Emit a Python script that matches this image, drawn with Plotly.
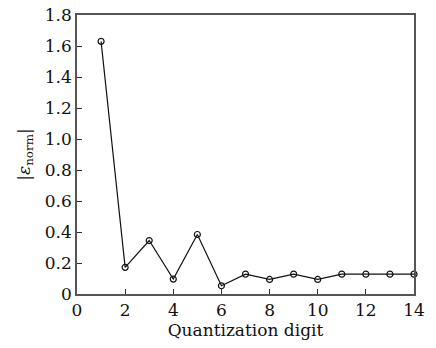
import plotly.graph_objects as go

digits = [1, 2, 3, 4, 5, 6, 7, 8, 9, 10, 11, 12, 13, 14]
eps_norm = [1.63, 0.172, 0.345, 0.096, 0.384, 0.053, 0.128, 0.094, 0.128, 0.094, 0.128, 0.128, 0.128, 0.128]
x_ticks = [0, 2, 4, 6, 8, 10, 12, 14]
y_ticks = [0, 0.2, 0.4, 0.6, 0.8, 1.0, 1.2, 1.4, 1.6, 1.8]
y_tick_text = ["0", "0.2", "0.4", "0.6", "0.8", "1.0", "1.2", "1.4", "1.6", "1.8"]

font_family = "DejaVu Serif, Liberation Serif, serif"
fs = 17

fig = go.Figure()
fig.add_trace(go.Scatter(
    x=digits, y=eps_norm, mode="lines+markers",
    line=dict(color="#111111", width=1.2),
    marker=dict(symbol="circle-open", size=6, color="#111111", line=dict(width=1.2)),
    showlegend=False, cliponaxis=False,
))

fig.update_layout(
    width=436, height=348,
    margin=dict(l=77, r=22, t=15, b=54, autoexpand=False),
    paper_bgcolor="white", plot_bgcolor="white",
    font=dict(family=font_family, size=fs, color="#111111"),
)
fig.update_xaxes(
    range=[0, 14], tickvals=x_ticks, ticks="inside", ticklen=5, tickcolor="#333333",
    showline=True, linecolor="#555555", linewidth=1.5, mirror=True,
    showgrid=False, zeroline=False, automargin=False, ticklabeloverflow="allow",
    tickfont=dict(family=font_family, size=fs),
    title=dict(text="Quantization digit", font=dict(family=font_family, size=fs), standoff=0),
)
fig.update_yaxes(
    range=[0, 1.8], tickvals=y_ticks, ticktext=y_tick_text, ticks="inside", ticklen=5, tickcolor="#333333",
    showline=True, linecolor="#555555", linewidth=1.5, mirror=True,
    showgrid=False, zeroline=False, automargin=False, ticklabeloverflow="allow",
    tickfont=dict(family=font_family, size=fs),
    title=dict(text="|<i>ε</i><sub>norm</sub>|", font=dict(family=font_family, size=fs), standoff=10),
)

fig.write_html("out.html", config={"displayModeBar": False},
               post_script="document.body.style.margin='0';")
